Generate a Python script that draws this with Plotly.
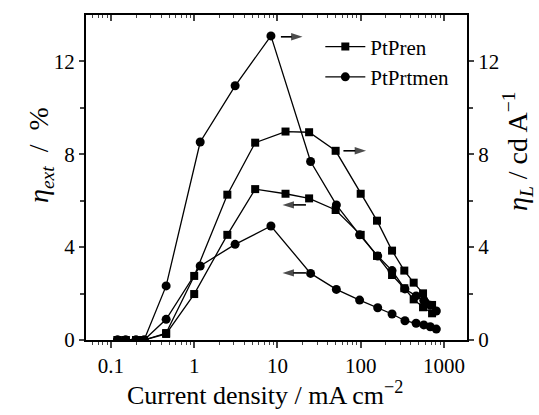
import plotly.graph_objects as go
import numpy as np

pren_x = [0.12, 0.15, 0.2, 0.25, 0.46, 1.0, 2.5, 5.4, 12.5, 24, 50, 100, 157, 238, 334, 433, 561, 720]
pren_ext = [0, 0, 0, 0, 0.26, 1.98, 4.53, 6.5, 6.3, 6.1, 5.6, 4.53, 3.62, 2.8, 2.23, 1.75, 1.41, 1.15]
pren_L = [0, 0, 0, 0, 0.3, 2.76, 6.26, 8.5, 8.98, 8.95, 8.15, 6.3, 5.14, 3.85, 2.99, 2.47, 2.01, 1.51]

prt_x = [0.12, 0.15, 0.2, 0.25, 0.46, 1.18, 3.1, 8.35, 25, 51, 97, 160, 238, 340, 463, 573, 685, 810]
prt_ext = [0, 0, 0, 0, 0.89, 3.19, 4.12, 4.91, 2.87, 2.18, 1.72, 1.39, 1.12, 0.83, 0.72, 0.65, 0.57, 0.47]
prt_L = [0, 0, 0, 0, 2.33, 8.53, 10.95, 13.1, 7.69, 5.82, 4.53, 3.62, 2.99, 2.2, 1.9, 1.7, 1.5, 1.25]

x_ticks = [0.1, 1, 10, 100, 1000]
x_ticklabels = ["0.1", "1", "10", "100", "1000"]
x_minor = [m * 10.0 ** k for k in range(-2, 4) for m in range(2, 10)]
y_ticks = [0, 4, 8, 12]
y_minor = [2, 6, 10]

# arrow indicators: (tail x, head x, y)
arrows = [
    (11.0, 20.0, 13.06),
    (62.0, 116.0, 8.15),
    (22.0, 11.5, 5.82),
    (22.0, 11.5, 2.89),
]

FONT = "Liberation Serif"
line = dict(color="black", width=1.3)

fig = go.Figure()
fig.add_trace(go.Scatter(x=pren_x, y=pren_ext, mode="lines+markers", name="PtPren",
                         line=line, marker=dict(symbol="square", size=8, color="black"),
                         xaxis="x", yaxis="y"))
fig.add_trace(go.Scatter(x=prt_x, y=prt_ext, mode="lines+markers", name="PtPrtmen",
                         line=line, marker=dict(symbol="circle", size=9, color="black"),
                         xaxis="x", yaxis="y"))
fig.add_trace(go.Scatter(x=pren_x, y=pren_L, mode="lines+markers", showlegend=False,
                         line=line, marker=dict(symbol="square", size=8, color="black"),
                         xaxis="x", yaxis="y2"))
fig.add_trace(go.Scatter(x=prt_x, y=prt_L, mode="lines+markers", showlegend=False,
                         line=line, marker=dict(symbol="circle", size=9, color="black"),
                         xaxis="x", yaxis="y2"))

for x0, x1, yy in arrows:
    fig.add_trace(go.Scatter(x=[x0, x1], y=[yy, yy], mode="lines+markers", showlegend=False,
                             hoverinfo="skip", line=dict(color="black", width=1.6),
                             marker=dict(symbol=["circle", "arrow"], size=[0.1, 12],
                                         angleref="previous", color="black",
                                         line=dict(width=0)),
                             xaxis="x", yaxis="y"))

# dummy trace to activate top axis
fig.add_trace(go.Scatter(x=[1], y=[None], xaxis="x2", yaxis="y", showlegend=False, hoverinfo="skip"))

xr = [-1.30, 3.277]
yr = [0, 14]
tf = dict(family=FONT, size=21, color="black")
fig.update_layout(
    width=539, height=415,
    margin=dict(l=86, r=72, t=15, b=75),
    paper_bgcolor="white", plot_bgcolor="white",
    font=dict(family=FONT, size=20, color="black"),
    showlegend=True,
    legend=dict(x=0.615, y=0.965, xanchor="left", yanchor="top", bgcolor="rgba(0,0,0,0)",
                font=dict(size=21, family=FONT, color="black"), itemwidth=40, tracegroupgap=0),
    xaxis=dict(type="log", range=xr, tickvals=x_ticks, ticktext=x_ticklabels,
               ticks="outside", ticklen=6, tickwidth=1.5, showline=True, linewidth=2,
               linecolor="black", showgrid=False, zeroline=False,
               minor=dict(tickmode="array", tickvals=x_minor, ticks="outside", ticklen=3,
                          tickwidth=1.3, showgrid=False),
               tickfont=tf),
    xaxis2=dict(type="log", range=xr, overlaying="x", side="top", tickvals=x_ticks,
                showticklabels=False, ticks="inside", ticklen=6, tickwidth=1.5,
                showline=True, linewidth=2, linecolor="black", showgrid=False,
                minor=dict(tickmode="array", tickvals=x_minor, ticks="inside", ticklen=3,
                           tickwidth=1.3, showgrid=False)),
    yaxis=dict(range=yr, tickvals=y_ticks, ticks="outside", ticklen=5, tickwidth=1.5,
               showline=True, linewidth=2, linecolor="black", showgrid=False, zeroline=False,
               minor=dict(tickmode="array", tickvals=y_minor, ticks="outside", ticklen=4, tickwidth=1.5),
               tickfont=tf),
    yaxis2=dict(range=yr, overlaying="y", side="right", tickvals=y_ticks, ticks="outside",
                ticklen=5, tickwidth=1.5, showline=True, linewidth=2, linecolor="black",
                showgrid=False, zeroline=False,
                minor=dict(tickmode="array", tickvals=y_minor, ticks="outside", ticklen=4, tickwidth=1.5),
                tickfont=tf),
)

fig.add_annotation(text="Current density / mA cm<sup>\u22122</sup>", xref="paper", yref="paper",
                   x=(265 - 86) / 381, y=-(393 - 340) / 325, showarrow=False,
                   font=dict(family=FONT, size=26, color="black"), xanchor="center", yanchor="middle")
fig.add_annotation(text="<i>\u03b7<sub>ext</sub></i>  /  %", xref="paper", yref="paper",
                   x=-(86 - 40) / 381, y=(340 - 155) / 325, showarrow=False, textangle=-90,
                   font=dict(family=FONT, size=28, color="black"), xanchor="center", yanchor="middle")
fig.add_annotation(text="<i>\u03b7<sub>L</sub></i> / cd A<sup>\u22121</sup>", xref="paper", yref="paper",
                   x=1 + (517 - 467) / 381, y=(340 - 151) / 325, showarrow=False, textangle=-90,
                   font=dict(family=FONT, size=28, color="black"), xanchor="center", yanchor="middle")

fig.write_html("out.html")
